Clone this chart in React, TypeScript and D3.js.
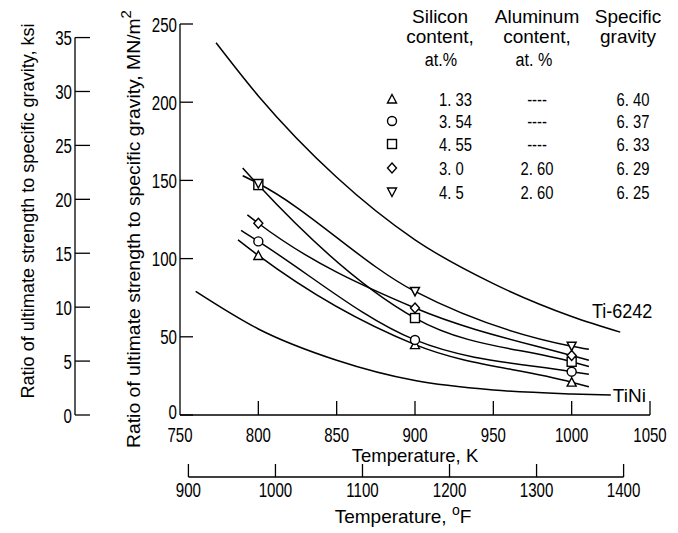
import React from 'react';
import * as d3 from 'd3';

// axis ticks
const kelvinTicks = [750, 800, 850, 900, 950, 1000, 1050];
const fahrenheitTicks = [900, 1000, 1100, 1200, 1300, 1400];
const mnTicks = [0, 50, 100, 150, 200, 250];
const ksiTicks = [0, 5, 10, 15, 20, 25, 30, 35];

// reference curves, [temperature K, MN/m^2]
const ti6242 = [[773, 238], [800, 204], [850, 152], [900, 112], [950, 84], [1000, 63], [1031, 53]];
const tini = [[760, 79], [800, 55], [850, 35], [900, 22], [950, 16], [1000, 13.5], [1025, 12.8]];

// alloy series
const siContent = ['1. 33', '3. 54', '4. 55', '3. 0', '4. 5'];
const alContent = ['----', '----', '----', '2. 60', '2. 60'];
const specGravity = ['6. 40', '6. 37', '6. 33', '6. 29', '6. 25'];
const markerTypes = ['triangle', 'circle', 'square', 'diamond', 'down'];
const seriesTriangle = [[787, 112], [800, 102], [900, 45], [1000, 21], [1011, 18]];
const seriesCircle = [[789, 118], [800, 111], [900, 48], [1000, 27.7], [1011, 26]];
const seriesSquare = [[790, 158], [800, 147], [900, 62], [1000, 34], [1011, 31]];
const seriesDiamond = [[793, 128], [800, 122.6], [900, 68.4], [1000, 38], [1011, 35]];
const seriesDown = [[790, 153], [800, 148], [900, 79], [1000, 44], [1011, 42]];
const alloySeries = [seriesTriangle, seriesCircle, seriesSquare, seriesDiamond, seriesDown];

const FONT = "'Liberation Sans', Arial, sans-serif";

// text with optional horizontal squeeze (the original lettering has narrow digits)
const Txt = ({ x, y, children, anchor = 'start', size = 19, sx = 1, dy }: any) => (
  <text transform={`translate(${x},${y})${sx !== 1 ? ` scale(${sx},1)` : ''}`}
    textAnchor={anchor} fontSize={size} dy={dy}>{children}</text>
);

const Marker = ({ type, x, y }: { type: string; x: number; y: number }) => {
  const s = 4.5;
  const common = { fill: 'white', stroke: 'black', strokeWidth: 1.4 };
  if (type === 'circle') return <circle cx={x} cy={y} r={s} {...common} />;
  if (type === 'square') return <rect x={x - s} y={y - s} width={2 * s} height={2 * s} {...common} />;
  if (type === 'diamond')
    return <path d={`M${x},${y - s - 0.5}L${x + s},${y}L${x},${y + s + 0.5}L${x - s},${y}Z`} {...common} />;
  if (type === 'triangle')
    return <path d={`M${x},${y - s}L${x + s},${y + s - 0.5}L${x - s},${y + s - 0.5}Z`} {...common} />;
  return <path d={`M${x},${y + s}L${x + s},${y - s + 0.5}L${x - s},${y - s + 0.5}Z`} {...common} />;
};

export default function App() {
  const x = d3.scaleLinear().domain([750, 1050]).range([180, 650]);
  const y = d3.scaleLinear().domain([0, 250]).range([415, 24]);
  const yKsi = (v: number) => y(v * 6.895);
  const xF = (f: number) => x((f - 32) * 5 / 9 + 273.15);

  const line = d3.line<number[]>()
    .x(d => x(d[0]))
    .y(d => y(d[1]))
    .curve(d3.curveMonotoneX);

  const rowY = [99, 121, 144, 168, 192];
  const fAxisY = 477;
  const NUM = 0.72; // digit squeeze

  return (
    <svg width={678} height={533} style={{ position: 'absolute', left: 0, top: 0, background: 'white' }}
      fontFamily={FONT} fill="black">
      {/* ksi axis */}
      <line x1={75} x2={75} y1={yKsi(0)} y2={yKsi(35)} stroke="black" strokeWidth={1.3} />
      {ksiTicks.map(t => (
        <g key={t}>
          <line x1={75} x2={90} y1={yKsi(t)} y2={yKsi(t)} stroke="black" strokeWidth={1.3} />
          <Txt x={72} y={yKsi(t)} dy="0.36em" anchor="end" size={21} sx={NUM}>{t}</Txt>
        </g>
      ))}
      <text transform={`translate(34,211) rotate(-90)`} textAnchor="middle" fontSize={18}
        textLength={375} lengthAdjust="spacingAndGlyphs">
        Ratio of ultimate strength to specific gravity,  ksi
      </text>

      {/* MN/m^2 axis */}
      <line x1={x(750)} x2={x(750)} y1={y(0)} y2={y(250)} stroke="black" strokeWidth={1.3} />
      {mnTicks.map(t => (
        <g key={t}>
          <line x1={x(750)} x2={x(750) + 13} y1={y(t)} y2={y(t)} stroke="black" strokeWidth={1.3} />
          <Txt x={x(750) - 3} y={y(t) - (t === 0 ? 4 : 0)} dy="0.36em" anchor="end" size={21} sx={NUM}>{t}</Txt>
        </g>
      ))}
      <text transform={`translate(140,229) rotate(-90)`} textAnchor="middle" fontSize={18}
        textLength={438} lengthAdjust="spacingAndGlyphs">
        Ratio of ultimate strength to specific gravity,  MN/m<tspan dy={-9} fontSize={14}>2</tspan>
      </text>

      {/* Kelvin axis */}
      <line x1={x(750)} x2={x(1050)} y1={y(0)} y2={y(0)} stroke="black" strokeWidth={1.3} />
      {kelvinTicks.map(t => (
        <g key={t}>
          {t > 750 && <line x1={x(t)} x2={x(t)} y1={y(0)} y2={y(0) - 14} stroke="black" strokeWidth={1.3} />}
          <Txt x={x(t)} y={442} anchor="middle" size={20} sx={0.75}>{t}</Txt>
        </g>
      ))}
      <Txt x={415} y={462} anchor="middle" size={18.5}>Temperature,  K</Txt>

      {/* Fahrenheit axis */}
      <line x1={xF(900)} x2={xF(1400)} y1={fAxisY} y2={fAxisY} stroke="black" strokeWidth={1.3} />
      {fahrenheitTicks.map(t => (
        <g key={t}>
          <line x1={xF(t)} x2={xF(t)} y1={fAxisY} y2={fAxisY - 13} stroke="black" strokeWidth={1.3} />
          <Txt x={xF(t)} y={497} anchor="middle" size={21} sx={NUM}>{t}</Txt>
        </g>
      ))}
      <Txt x={403} y={523} anchor="middle" size={19}>
        Temperature,  <tspan dy={-8} fontSize={14}>o</tspan><tspan dy={8}>F</tspan>
      </Txt>

      {/* reference curves */}
      <path d={line(ti6242) ?? ''} fill="none" stroke="black" strokeWidth={1.5} />
      <Txt x={592} y={318} size={20} sx={0.9}>Ti-6242</Txt>
      <path d={line(tini) ?? ''} fill="none" stroke="black" strokeWidth={1.5} />
      <Txt x={x(1025) + 2} y={y(12.8)} dy="0.36em" size={19}>TiNi</Txt>

      {/* alloy curves */}
      {alloySeries.map((s, i) => (
        <path key={i} d={line(s) ?? ''} fill="none" stroke="black" strokeWidth={1.5} />
      ))}
      {alloySeries.map((s, i) =>
        s.filter(d => d[0] % 100 === 0).map(d => (
          <Marker key={`${i}-${d[0]}`} type={markerTypes[i]} x={x(d[0])} y={y(d[1])} />
        ))
      )}

      {/* legend table */}
      <Txt x={440} y={23} anchor="middle" size={19}>Silicon</Txt>
      <Txt x={440} y={43} anchor="middle" size={19}>content,</Txt>
      <Txt x={441} y={66} anchor="middle" size={19} sx={0.85}>at.%</Txt>
      <Txt x={537} y={23} anchor="middle" size={19}>Aluminum</Txt>
      <Txt x={537} y={43} anchor="middle" size={19}>content,</Txt>
      <Txt x={534} y={66} anchor="middle" size={19} sx={0.85}>at. %</Txt>
      <Txt x={628} y={23} anchor="middle" size={19}>Specific</Txt>
      <Txt x={628} y={43} anchor="middle" size={19}>gravity</Txt>
      {siContent.map((s, i) => (
        <g key={i}>
          <Marker type={markerTypes[i]} x={392} y={rowY[i]} />
          <Txt x={439} y={rowY[i]} dy="0.36em" size={19} sx={0.78}>{s}</Txt>
          <Txt x={537} y={rowY[i]} dy="0.36em" anchor="middle" size={19} sx={0.78}>{alContent[i]}</Txt>
          <Txt x={633} y={rowY[i]} dy="0.36em" anchor="middle" size={19} sx={0.78}>{specGravity[i]}</Txt>
        </g>
      ))}
    </svg>
  );
}
